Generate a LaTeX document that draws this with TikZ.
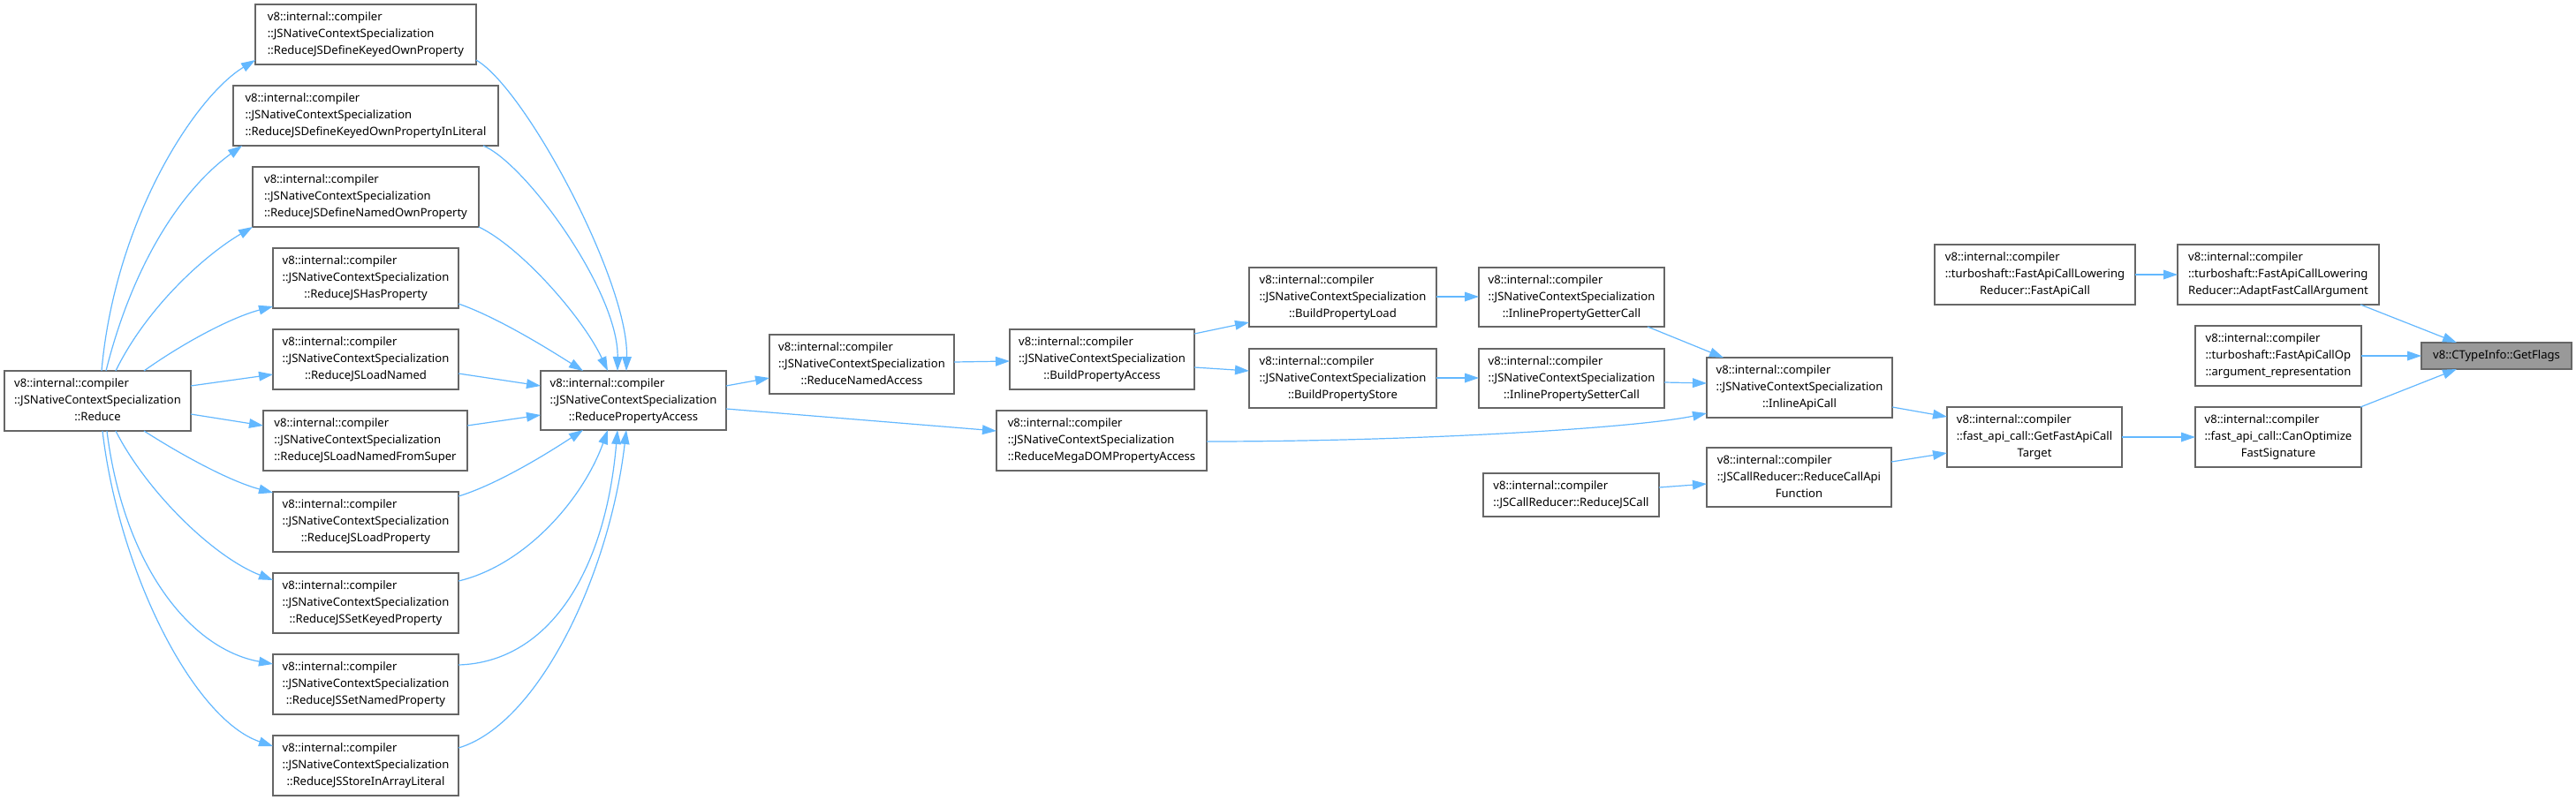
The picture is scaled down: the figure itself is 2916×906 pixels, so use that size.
\documentclass[tikz,border=0pt]{standalone}
\usepackage{fontspec}
\setmainfont{Noto Sans}
\usetikzlibrary{arrows.meta,calc}
\definecolor{edgeblue}{HTML}{63B8FF}
\definecolor{boxborder}{HTML}{666666}
\definecolor{rootfill}{HTML}{999999}
\newcommand{\lthree}[3]{\begin{tabular}{@{}l@{}}#1\\#2\\\multicolumn{1}{@{}c@{}}{#3}\end{tabular}}
\newcommand{\ltwo}[2]{\begin{tabular}{@{}l@{}}#1\\\multicolumn{1}{@{}c@{}}{#2}\end{tabular}}
\newcommand{\vic}{v8::internal::compiler}
\newcommand{\jncs}{::JSNativeContextSpecialization}
\newcommand{\bx}[7]{\node[#6, minimum width={(#4-#2)*0.75pt}, minimum height={(#5-#3)*0.75pt}] (#1) at ({(#2+#4)/2},{(#3+#5)/2}) {#7};}
\begin{document}
\begin{tikzpicture}[x=0.75pt,y=-0.75pt,
  box/.style={draw=boxborder, line width=0.9pt, fill=white, inner sep=0pt, outer sep=0pt,
    font=\fontsize{9.8}{14.25}\selectfont, text=black, anchor=center},
  root/.style={box, fill=rootfill},
  edge/.style={draw=edgeblue, line width=0.9pt, -{Triangle[length=12pt,width=8pt]}}]
\fill[white] (0,0) rectangle (2916,906);
\useasboundingbox (0,0) rectangle (2916,906);

% nodes
\bx{r}{5}{420}{216}{488}{box}{\lthree{\vic}{\jncs}{::Reduce}}
\bx{dk}{289}{5}{539}{73}{box}{\lthree{\vic}{\jncs}{::ReduceJSDefineKeyedOwnProperty}}
\bx{il}{264}{97}{564}{165}{box}{\lthree{\vic}{\jncs}{::ReduceJSDefineKeyedOwnPropertyInLiteral}}
\bx{dn}{286}{189}{542}{257}{box}{\lthree{\vic}{\jncs}{::ReduceJSDefineNamedOwnProperty}}
\bx{hp}{309}{281}{519}{349}{box}{\lthree{\vic}{\jncs}{::ReduceJSHasProperty}}
\bx{ln}{309}{373}{519}{441}{box}{\lthree{\vic}{\jncs}{::ReduceJSLoadNamed}}
\bx{lnfs}{298}{465}{529}{533}{box}{\lthree{\vic}{\jncs}{::ReduceJSLoadNamedFromSuper}}
\bx{lp}{309}{557}{519}{625}{box}{\lthree{\vic}{\jncs}{::ReduceJSLoadProperty}}
\bx{sk}{309}{649}{519}{717}{box}{\lthree{\vic}{\jncs}{::ReduceJSSetKeyedProperty}}
\bx{sn}{309}{741}{519}{809}{box}{\lthree{\vic}{\jncs}{::ReduceJSSetNamedProperty}}
\bx{sia}{309}{833}{519}{901}{box}{\lthree{\vic}{\jncs}{::ReduceJSStoreInArrayLiteral}}
\bx{rpa}{612}{420}{822}{487}{box}{\lthree{\vic}{\jncs}{::ReducePropertyAccess}}
\bx{rna}{871}{379}{1080}{446}{box}{\lthree{\vic}{\jncs}{::ReduceNamedAccess}}
\bx{bpa}{1143}{373}{1352}{441}{box}{\lthree{\vic}{\jncs}{::BuildPropertyAccess}}
\bx{mdom}{1128}{465}{1366}{533}{box}{\lthree{\vic}{\jncs}{::ReduceMegaDOMPropertyAccess}}
\bx{bpl}{1414}{303}{1626}{370}{box}{\lthree{\vic}{\jncs}{::BuildPropertyLoad}}
\bx{bps}{1414}{395}{1626}{462}{box}{\lthree{\vic}{\jncs}{::BuildPropertyStore}}
\bx{ipgc}{1674}{303}{1884}{370}{box}{\lthree{\vic}{\jncs}{::InlinePropertyGetterCall}}
\bx{ipsc}{1674}{395}{1884}{462}{box}{\lthree{\vic}{\jncs}{::InlinePropertySetterCall}}
\bx{iac}{1932}{405}{2142}{473}{box}{\lthree{\vic}{\jncs}{::InlineApiCall}}
\bx{rjsc}{1679}{536}{1878}{585}{box}{\ltwo{\vic}{::JSCallReducer::ReduceJSCall}}
\bx{rcaf}{1932}{507}{2141}{574}{box}{\lthree{\vic}{::JSCallReducer::ReduceCallApi}{Function}}
\bx{gfact}{2204}{461}{2402}{529}{box}{\lthree{\vic}{::fast\_api\_call::GetFastApiCall}{Target}}
\bx{fac}{2190}{277}{2417}{345}{box}{\lthree{\vic}{::turboshaft::FastApiCallLowering}{Reducer::FastApiCall}}
\bx{afca}{2465}{277}{2693}{345}{box}{\lthree{\vic}{::turboshaft::FastApiCallLowering}{Reducer::AdaptFastCallArgument}}
\bx{ar}{2485}{369}{2673}{437}{box}{\lthree{\vic}{::turboshaft::FastApiCallOp}{::argument\_representation}}
\bx{cofs}{2485}{461}{2673}{529}{box}{\lthree{\vic}{::fast\_api\_call::CanOptimize}{FastSignature}}
\bx{gf}{2741}{388}{2911}{418}{root}{v8::CTypeInfo::GetFlags}

% Reduce -> middle column
\draw[edge] ($(r.north west)+(110,0)$) .. controls (130,250) and (220,110) .. ($(dk.north west)+(0,63)$);
\draw[edge] ($(r.north west)+(115,0)$) .. controls (150,300) and (205,215) .. ($(il.north west)+(10,68)$);
\draw[edge] ($(r.north west)+(126,0)$) .. controls (165,350) and (230,290) .. ($(dn.north west)+(0,68)$);
\draw[edge] ($(r.north west)+(158,0)$) .. controls (205,390) and (260,360) .. ($(hp.north west)+(0,66)$);
\draw[edge] ($(r.north west)+(211,17)$) -- ($(ln.north west)+(0,51)$);
\draw[edge] ($(r.north west)+(211,49)$) -- ($(lnfs.north west)+(0,17)$);
\draw[edge] ($(r.north west)+(158,68)$) .. controls (205,515) and (260,545) .. ($(lp.north west)+(0,1)$);
\draw[edge] ($(r.north west)+(126,68)$) .. controls (165,555) and (240,630) .. ($(sk.north west)+(0,8)$);
\draw[edge] ($(r.north west)+(116,68)$) .. controls (140,640) and (215,735) .. ($(sn.north west)+(0,11)$);
\draw[edge] ($(r.north west)+(111,68)$) .. controls (135,650) and (220,815) .. ($(sia.north west)+(0,12)$);

% middle column -> ReducePropertyAccess
\draw[edge] ($(dk.north west)+(250,63)$) .. controls (595,100) and (712,320) .. ($(rpa.north west)+(97,0)$);
\draw[edge] ($(il.north west)+(283,68)$) .. controls (595,185) and (700,330) .. ($(rpa.north west)+(87,0)$);
\draw[edge] ($(dn.north west)+(256,68)$) .. controls (590,280) and (660,360) .. ($(rpa.north west)+(76,0)$);
\draw[edge] ($(hp.north west)+(210,63)$) .. controls (565,360) and (625,398) .. ($(rpa.north west)+(48,0)$);
\draw[edge] ($(ln.north west)+(210,50)$) -- ($(rpa.north west)+(0,17)$);
\draw[edge] ($(lnfs.north west)+(231,17)$) -- ($(rpa.north west)+(0,50)$);
\draw[edge] ($(lp.north west)+(210,5)$) .. controls (565,548) and (625,510) .. ($(rpa.north west)+(48,67)$);
\draw[edge] ($(sk.north west)+(210,9)$) .. controls (595,640) and (660,565) .. ($(rpa.north west)+(76,67)$);
\draw[edge] ($(sn.north west)+(210,12)$) .. controls (620,750) and (685,650) .. ($(rpa.north west)+(87,67)$);
\draw[edge] ($(sia.north west)+(210,14)$) .. controls (610,820) and (690,650) .. ($(rpa.north west)+(97,67)$);

% right part
\draw[edge] ($(rpa.north west)+(210,17)$) -- ($(rna.north west)+(0,49)$);
\draw[edge] ($(rpa.north west)+(210,43)$) -- ($(mdom.north west)+(0,23)$);
\draw[edge] ($(rna.north west)+(209,31)$) -- ($(bpa.north west)+(0,36)$);
\draw[edge] ($(bpa.north west)+(209,5)$) -- ($(bpl.north west)+(0,62)$);
\draw[edge] ($(bpa.north west)+(209,43)$) -- ($(bps.north west)+(0,25)$);
\draw[edge] ($(bpl.north west)+(212,33)$) -- ($(ipgc.north west)+(0,33)$);
\draw[edge] ($(bps.north west)+(212,33)$) -- ($(ipsc.north west)+(0,33)$);
\draw[edge] ($(ipgc.north west)+(191,67)$) -- ($(iac.north west)+(19,0)$);
\draw[edge] ($(ipsc.north west)+(210,38)$) -- ($(iac.north west)+(0,29)$);
\draw[edge] ($(mdom.north west)+(238,35)$) .. controls (1600,500) and (1850,485) .. ($(iac.north west)+(0,63)$);
\draw[edge] ($(rjsc.north west)+(199,16)$) -- ($(rcaf.north west)+(0,41)$);
\draw[edge] ($(iac.north west)+(210,56)$) -- ($(gfact.north west)+(0,11)$);
\draw[edge] ($(rcaf.north west)+(209,16)$) -- ($(gfact.north west)+(0,52)$);
\draw[edge] ($(gfact.north west)+(198,34)$) -- ($(cofs.north west)+(0,34)$);
\draw[edge] ($(fac.north west)+(227,34)$) -- ($(afca.north west)+(0,34)$);
\draw[edge] ($(afca.north west)+(207,68)$) -- ($(gf.north west)+(40,0)$);
\draw[edge] ($(ar.north west)+(188,34)$) -- ($(gf.north west)+(0,15)$);
\draw[edge] ($(cofs.north west)+(187,0)$) -- ($(gf.north west)+(40,30)$);
\end{tikzpicture}
\end{document}
